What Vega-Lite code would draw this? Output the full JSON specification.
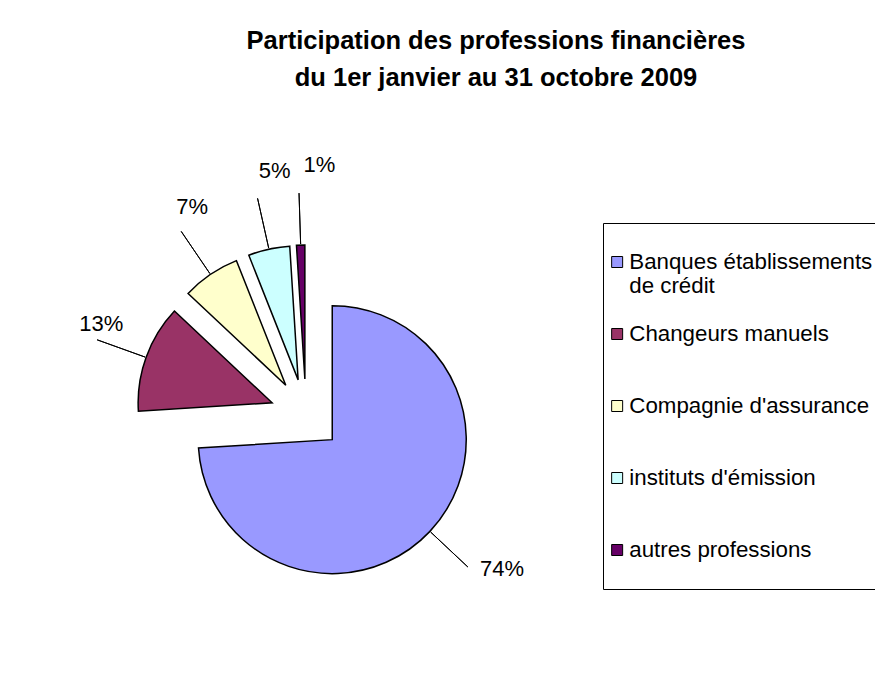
{
  "$schema": "https://vega.github.io/schema/vega-lite/v6.json",
  "width": 612,
  "height": 550,
  "autosize": {"type": "none"},
  "padding": {"left": 0, "top": 140, "right": 263, "bottom": 4},
  "background": "white",
  "title": {
    "text": ["Participation des professions financières", "du 1er janvier au 31 octobre 2009"],
    "font": "Liberation Sans",
    "fontSize": 25.5,
    "fontWeight": "bold",
    "color": "#000000",
    "anchor": "middle",
    "dx": 190,
    "lineHeight": 37,
    "offset": 49
  },
  "data": {
    "values": [
      {"profession": "Banques établissements de crédit", "part": 0.74, "rang": 1},
      {"profession": "Changeurs manuels", "part": 0.13, "rang": 2},
      {"profession": "Compagnie d'assurance", "part": 0.07, "rang": 3},
      {"profession": "instituts d'émission", "part": 0.05, "rang": 4},
      {"profession": "autres professions", "part": 0.01, "rang": 5}
    ]
  },
  "encoding": {
    "theta": {"field": "part", "type": "quantitative", "stack": true},
    "order": {"field": "rang", "type": "quantitative"}
  },
  "layer": [
    {
      "mark": {
        "type": "arc",
        "radius": 134,
        "stroke": "#000000",
        "strokeWidth": 1.5,
        "xOffset": {"expr": "36*sin(PI*(datum.part_start+datum.part_end))"},
        "yOffset": {"expr": "-36*cos(PI*(datum.part_start+datum.part_end))"}
      },
      "encoding": {
        "color": {
          "field": "profession",
          "type": "nominal",
          "scale": {
            "domain": ["Banques établissements de crédit", "Changeurs manuels", "Compagnie d'assurance", "instituts d'émission", "autres professions"],
            "range": ["#9999FF", "#993366", "#FFFFCC", "#CCFFFF", "#660066"]
          },
          "legend": {
            "title": null,
            "orient": "none",
            "legendX": 603,
            "legendY": 83,
            "strokeColor": "#000000",
            "padding": 3,
            "symbolType": "square",
            "symbolSize": 121,
            "symbolStrokeColor": "#000000",
            "symbolStrokeWidth": 1,
            "labelFont": "Liberation Sans",
            "labelFontSize": 22.3,
            "labelColor": "#000000",
            "labelLimit": 0,
            "labelOffset": 1,
            "clipHeight": 72,
            "rowPadding": 0,
            "labelExpr": "datum.value == 'Banques établissements de crédit' ? ['Banques établissements', 'de crédit'] : datum.label"
          }
        }
      }
    },
    {
      "transform": [
        {"stack": "part", "groupby": [], "sort": [{"field": "rang", "order": "ascending"}], "as": ["s0", "s1"]}
      ],
      "mark": {
        "type": "arc",
        "radius": 222,
        "radius2": 171,
        "fill": "transparent",
        "stroke": "#000000",
        "strokeWidth": 1,
        "thetaOffset": {"expr": "-PI*(datum.s1-datum.s0)"},
        "theta2Offset": {"expr": "-PI*(datum.s1-datum.s0)"}
      },
      "encoding": {
        "theta": {"field": "s1", "type": "quantitative", "stack": null},
        "theta2": {"field": "s1"}
      }
    },
    {
      "mark": {
        "type": "text",
        "radius": 240,
        "dx": 21,
        "dy": -10,
        "font": "Liberation Sans",
        "fontSize": 22,
        "color": "#000000"
      },
      "encoding": {
        "text": {"field": "part", "type": "quantitative", "format": ".0%"}
      }
    }
  ],
  "config": {"view": {"stroke": null}}
}
